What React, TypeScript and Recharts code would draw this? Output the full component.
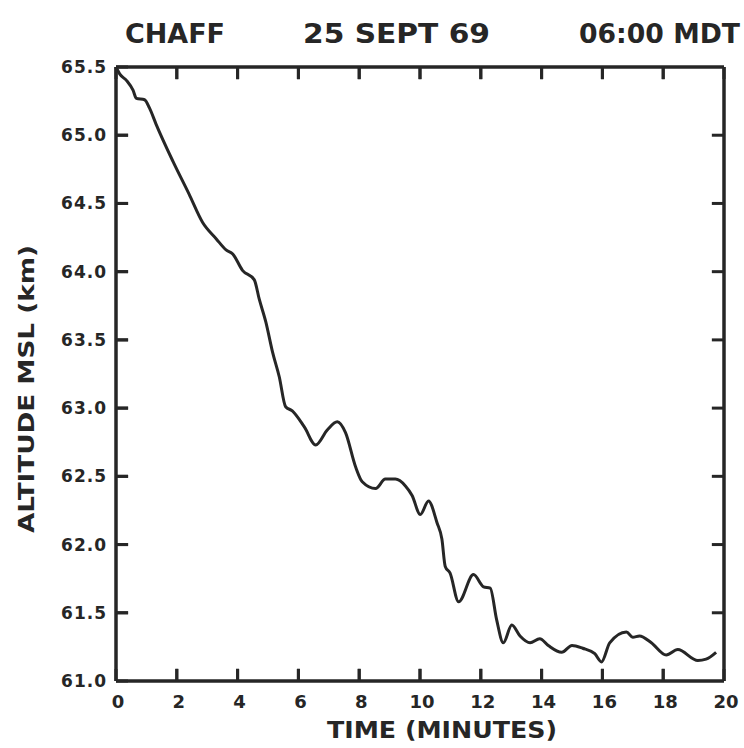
import React from 'react';
import { LineChart, Line, XAxis, YAxis, ReferenceLine } from 'recharts';

// Time since release (minutes)
const timeMin = [
  0, 0.12, 0.35, 0.56, 0.67, 0.94, 1.1, 1.32, 1.87, 2.4, 2.85, 3.3, 3.62, 3.84,
  4.16, 4.55, 4.71, 4.93, 5.15, 5.37, 5.58, 5.8, 6.2, 6.57, 6.95, 7.28, 7.55,
  7.88, 8.1, 8.54, 8.86, 9.19, 9.52, 9.74, 10.01, 10.28, 10.56, 10.72, 10.83,
  10.99, 11.27, 11.76, 12.09, 12.31, 12.52, 12.74, 13.02, 13.29, 13.62, 13.94,
  14.22, 14.66, 15.0, 15.35, 15.75, 15.97, 16.24, 16.79, 17.0, 17.22, 17.61,
  18.1, 18.48, 19.14, 19.41, 19.74,
];
// Altitude MSL (km)
const altitudeKm = [
  65.5, 65.45, 65.4, 65.33, 65.27, 65.26, 65.2, 65.08, 64.81, 64.57, 64.36,
  64.24, 64.16, 64.13, 64.01, 63.94, 63.8, 63.63, 63.41, 63.23, 63.01, 62.98,
  62.86, 62.73, 62.84, 62.9, 62.82, 62.57, 62.46, 62.41, 62.48, 62.48, 62.43,
  62.36, 62.22, 62.32, 62.16, 62.04, 61.84, 61.79, 61.58, 61.78, 61.69, 61.68,
  61.45, 61.28, 61.41, 61.33, 61.28, 61.31, 61.26, 61.21, 61.26, 61.24, 61.2,
  61.14, 61.28, 61.36, 61.32, 61.33, 61.28, 61.19, 61.23, 61.15, 61.16, 61.21,
];

const xTicks = [0, 2, 4, 6, 8, 10, 12, 14, 16, 18, 20];
const yTicks = [61, 61.5, 62, 62.5, 63, 63.5, 64, 64.5, 65, 65.5];
const X_MIN = 0;
const X_MAX = 20;
const Y_MIN = 61;
const Y_MAX = 65.5;

const titleLeft = 'CHAFF';
const titleCenter = '25 SEPT 69';
const titleRight = '06:00 MDT';
const xTitle = 'TIME (MINUTES)';
const yTitle = 'ALTITUDE MSL (km)';

const data = timeMin.map((t, i) => ({ t, alt: altitudeKm[i] }));

const INK = '#262626';
const FONT = '"DejaVu Sans", Verdana, sans-serif';
// inward tick-mark length in axis units (style only)
const TICK_LEN_X = 0.4;
const TICK_LEN_Y = 0.09;
const innerX = xTicks.filter((v) => v > X_MIN && v < X_MAX);
const innerY = yTicks.filter((v) => v > Y_MIN && v < Y_MAX);

const BottomTick = (props: any) => {
  const { x, y, payload } = props;
  return (
    <g>
      <line x1={x} y1={y} x2={x} y2={y - 12} stroke={INK} strokeWidth={3} />
      <text x={x + 2} y={y + 27} textAnchor="middle" fontFamily={FONT} fontWeight="bold" fontSize={18} fill={INK}>
        {String(payload.value)}
      </text>
    </g>
  );
};

const TopTick = (props: any) => {
  const { x, y } = props;
  return <line x1={x} y1={y} x2={x} y2={y + 12} stroke={INK} strokeWidth={3} />;
};

const LeftTick = (props: any) => {
  const { x, y, payload } = props;
  return (
    <g>
      <line x1={x} y1={y} x2={x + 12} y2={y} stroke={INK} strokeWidth={3} />
      <text x={x - 9} y={y + 6} textAnchor="end" fontFamily={FONT} fontWeight="bold" fontSize={17} fill={INK} letterSpacing={1}>
        {Number(payload.value).toFixed(1)}
      </text>
    </g>
  );
};

const RightTick = (props: any) => {
  const { x, y } = props;
  return <line x1={x} y1={y} x2={x - 12} y2={y} stroke={INK} strokeWidth={3} />;
};

const TitleLabels = () => (
  <g fontFamily={FONT} fill={INK} fontSize={27} fontWeight="bold">
    <text x={125} y={43} textLength={100} lengthAdjust="spacingAndGlyphs">{titleLeft}</text>
    <text x={303} y={43} textLength={187} lengthAdjust="spacingAndGlyphs">{titleCenter}</text>
    <text x={579} y={43} textLength={161} lengthAdjust="spacingAndGlyphs">{titleRight}</text>
  </g>
);

const XTitleLabel = () => (
  <text x={327} y={738} fontFamily={FONT} fontWeight="bold" fontSize={23} fill={INK} textLength={230} lengthAdjust="spacingAndGlyphs">
    {xTitle}
  </text>
);

const YTitleLabel = () => (
  <text
    x={0}
    y={0}
    transform="translate(34 389) rotate(-90)"
    textAnchor="middle"
    fontFamily={FONT}
    fontWeight="bold"
    fontSize={21}
    fill={INK}
    textLength={288}
    lengthAdjust="spacingAndGlyphs"
  >
    {yTitle}
  </text>
);

const axisLine = { stroke: INK, strokeWidth: 3.5 };

export default function App() {
  return (
    <div style={{ position: 'absolute', left: 0, top: 0, width: 744, height: 748 }}>
      <LineChart width={744} height={748} data={data} margin={{ top: 66, right: 19, bottom: 0, left: 0 }}>
        <XAxis
          dataKey="t"
          type="number"
          domain={[X_MIN, X_MAX]}
          ticks={xTicks}
          interval={0}
          height={67}
          tickSize={0}
          tickMargin={0}
          tickLine={false}
          axisLine={axisLine}
          tick={<BottomTick />}
          label={<XTitleLabel />}
        />
        <XAxis
          xAxisId="top"
          orientation="top"
          dataKey="t"
          type="number"
          domain={[X_MIN, X_MAX]}
          ticks={xTicks}
          interval={0}
          height={1}
          tickSize={0}
          tickMargin={0}
          tickLine={false}
          axisLine={axisLine}
          tick={<TopTick />}
          label={<TitleLabels />}
        />
        <YAxis
          type="number"
          domain={[Y_MIN, Y_MAX]}
          ticks={yTicks}
          interval={0}
          width={116}
          tickSize={0}
          tickMargin={0}
          tickLine={false}
          axisLine={axisLine}
          tick={<LeftTick />}
          label={<YTitleLabel />}
        />
        <YAxis
          yAxisId="right"
          orientation="right"
          type="number"
          domain={[Y_MIN, Y_MAX]}
          ticks={yTicks}
          interval={0}
          width={1}
          tickSize={0}
          tickMargin={0}
          tickLine={false}
          axisLine={axisLine}
          tick={<RightTick />}
        />
        {innerX.map((v) => (
          <ReferenceLine
            key={`b${v}`}
            segment={[{ x: v, y: Y_MIN }, { x: v, y: Y_MIN + TICK_LEN_Y }]}
            stroke={INK}
            strokeWidth={3}
            ifOverflow="visible"
          />
        ))}
        {innerX.map((v) => (
          <ReferenceLine
            key={`t${v}`}
            segment={[{ x: v, y: Y_MAX - TICK_LEN_Y }, { x: v, y: Y_MAX }]}
            stroke={INK}
            strokeWidth={3}
            ifOverflow="visible"
          />
        ))}
        {innerY.map((v) => (
          <ReferenceLine
            key={`l${v}`}
            segment={[{ x: X_MIN, y: v }, { x: X_MIN + TICK_LEN_X, y: v }]}
            stroke={INK}
            strokeWidth={3}
            ifOverflow="visible"
          />
        ))}
        {innerY.map((v) => (
          <ReferenceLine
            key={`r${v}`}
            segment={[{ x: X_MAX - TICK_LEN_X, y: v }, { x: X_MAX, y: v }]}
            stroke={INK}
            strokeWidth={3}
            ifOverflow="visible"
          />
        ))}
        <Line
          type="monotone"
          dataKey="alt"
          stroke={INK}
          strokeWidth={3}
          dot={false}
          isAnimationActive={false}
        />
      </LineChart>
    </div>
  );
}
